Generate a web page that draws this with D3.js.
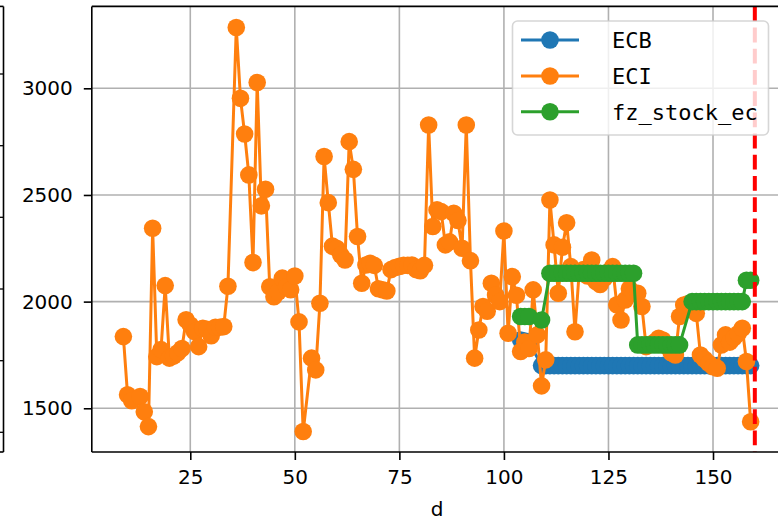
<!DOCTYPE html>
<html><head><meta charset="utf-8">
<script src="https://cdn.jsdelivr.net/npm/d3@7"></script>
<style>body{margin:0;background:#fff}svg{display:block}</style>
</head><body>
<script>
// ---- data ----
const dECI = [9,10,11,13,14,15,16,17,18,19,20,21,22,23,24,25,26,27,28,29,30,31,32,33,34,36,37,38,39,40,41,42,43,44,45,46,47,48,49,50,51,52,54,55,56,57,58,59,60,61,62,63,64,65,66,67,68,69,70,71,72,73,74,75,76,77,78,79,80,81,82,83,84,85,86,87,88,89,90,91,92,93,94,95,96,97,98,99,100,101,102,103,104,105,106,107,108,109,110,111,112,113,114,115,116,117,118,119,120,121,122,123,124,125,126,127,128,129,130,131,132,133,134,135,136,137,138,139,140,141,142,143,144,146,147,148,149,150,151,152,153,154,155,156,157,158,159];
const eci = [1836,1563,1535,1555,1484,1414,2344,1742,1775,2075,1735,1745,1760,1780,1915,1890,1860,1789,1875,1870,1840,1880,1880,1883,2072,3285,2953,2786,2594,2183,3027,2449,2527,2070,2023,2045,2110,2070,2056,2120,1905,1391,1735,1680,1992,2680,2464,2260,2250,2219,2195,2750,2620,2305,2086,2172,2180,2170,2060,2055,2050,2150,2160,2165,2170,2170,2172,2150,2145,2170,2828,2352,2430,2422,2266,2280,2414,2380,2250,2828,2192,1735,1867,1977,1955,2086,2031,2000,2331,1852,2117,2030,1766,1810,1780,2055,1844,1605,1727,2476,2266,2039,2255,2370,2164,1859,2140,2150,2120,2195,2094,2080,2110,2140,2164,1985,1914,2008,2060,2039,2039,1977,1789,1800,1810,1828,1820,1790,1760,1750,1930,1984,1990,1945,1750,1730,1711,1695,1688,1797,1844,1810,1830,1850,1875,1719,1437];
const dECB = [104,105,106,109,110,111,112,113,114,115,116,117,118,119,120,121,122,123,124,125,126,127,128,129,130,131,132,133,134,135,136,137,138,139,140,141,142,143,144,145,146,147,148,149,150,151,152,153,154,155,156,157,158,159];
const ecb = [1820,1815,1810,1700,1700,1700,1700,1700,1700,1700,1700,1700,1700,1700,1700,1700,1700,1700,1700,1700,1700,1700,1700,1700,1700,1700,1700,1700,1700,1700,1700,1700,1700,1700,1700,1700,1700,1700,1700,1700,1700,1700,1700,1700,1700,1700,1700,1700,1700,1700,1700,1700,1700,1700];
const dStock = [104,105,106,109,111,112,113,114,115,116,117,118,119,120,121,122,123,124,125,126,127,128,129,130,131,132,133,134,135,136,137,138,139,140,141,142,145,146,147,148,149,150,151,152,153,154,155,156,157,158,159];
const stock = [1930,1930,1930,1914,2133,2133,2133,2133,2133,2133,2133,2133,2133,2133,2133,2133,2133,2133,2133,2133,2133,2133,2133,2133,2133,1797,1797,1797,1797,1797,1797,1797,1797,1797,1797,1797,2000,2000,2000,2000,2000,2000,2000,2000,2000,2000,2000,2000,2000,2100,2100];
const cutoff = 160;
const xTicks = [25,50,75,100,125,150];
const yTicks = [1500,2000,2500,3000];
const seriesNames = ["ECB","ECI","fz_stock_ec"];
const colors = ["#1f77b4","#ff7f0e","#2ca02c"];

// ---- layout ----
const W = 778, H = 522;
const L = 91.8, R = 786.4, T = 6.4, B = 452;
const svg = d3.select("body").append("svg").attr("width", W).attr("height", H);

const x = d3.scaleLinear().domain([1.45, 167.55]).range([L, R]);
const y = d3.scaleLinear().domain([1295, 3384]).range([B, T]);

svg.append("defs").append("clipPath").attr("id","clip")
  .append("rect").attr("x",L).attr("y",T).attr("width",R-L).attr("height",B-T);

// stray spine of neighbouring subplot at far left
const stray = svg.append("g").attr("stroke","#000").attr("stroke-width",1.6);
stray.append("line").attr("x1",3.5).attr("x2",3.5).attr("y1",T).attr("y2",B);
stray.append("line").attr("x1",0).attr("x2",3.5).attr("y1",T).attr("y2",T);
stray.append("line").attr("x1",0).attr("x2",3.5).attr("y1",B).attr("y2",B);
[74,145.7,217.3,289,360.7,432.3].forEach(v=>{
  stray.append("line").attr("x1",0).attr("x2",3.5).attr("y1",v).attr("y2",v).attr("stroke-width",1.3);
});

// grid
const grid = svg.append("g").attr("stroke","#b0b0b0").attr("stroke-width",1.6);
xTicks.forEach(t=>grid.append("line").attr("x1",x(t)).attr("x2",x(t)).attr("y1",T).attr("y2",B));
yTicks.forEach(t=>grid.append("line").attr("x1",L).attr("x2",R).attr("y1",y(t)).attr("y2",y(t)));

// series
const plot = svg.append("g").attr("clip-path","url(#clip)");
function drawSeries(ds, vs, color){
  const pts = ds.map((d,i)=>[d, vs[i]]);
  const line = d3.line().x(p=>x(p[0])).y(p=>y(p[1]));
  plot.append("path").datum(pts).attr("d", line).attr("fill","none")
    .attr("stroke", color).attr("stroke-width",3).attr("stroke-linejoin","round");
  plot.append("g").selectAll("circle").data(pts).join("circle")
    .attr("cx",p=>x(p[0])).attr("cy",p=>y(p[1])).attr("r",8.8).attr("fill",color);
}
drawSeries(dECB, ecb, colors[0]);
drawSeries(dECI, eci, colors[1]);
drawSeries(dStock, stock, colors[2]);

// red cutoff line
svg.append("line").attr("x1",x(cutoff)).attr("x2",x(cutoff)).attr("y1",T).attr("y2",B)
  .attr("stroke","#ff0000").attr("stroke-width",4).attr("stroke-dasharray","14.8,6.4");

// axes
const font = "DejaVu Sans, sans-serif";
const xAxis = svg.append("g").attr("transform",`translate(0,${B})`)
  .call(d3.axisBottom(x).tickValues(xTicks).tickFormat(d3.format("d")).tickSize(8).tickPadding(10).tickSizeOuter(0));
const yAxis = svg.append("g").attr("transform",`translate(${L},0)`)
  .call(d3.axisLeft(y).tickValues(yTicks).tickFormat(d3.format("d")).tickSize(8).tickPadding(11).tickSizeOuter(0));
[xAxis,yAxis].forEach(a=>{
  a.select(".domain").remove();
  a.selectAll(".tick line").attr("stroke","#000").attr("stroke-width",1.6);
  a.selectAll(".tick text").attr("fill","#000").style("font-family",font).style("font-size","20px");
});

// spines
const sp = svg.append("g").attr("stroke","#000").attr("stroke-width",1.6).attr("fill","none");
sp.append("line").attr("x1",L).attr("x2",R).attr("y1",B).attr("y2",B);
sp.append("line").attr("x1",L).attr("x2",L).attr("y1",T).attr("y2",B);
sp.append("line").attr("x1",L).attr("x2",R).attr("y1",T).attr("y2",T);
sp.append("line").attr("x1",R).attr("x2",R).attr("y1",T).attr("y2",B);

// x label
svg.append("text").attr("x",(L+R)/2 - 2).attr("y",516).attr("text-anchor","middle")
  .style("font-family",font).style("font-size","20px").text("d");

// legend
const lg = svg.append("g");
lg.append("rect").attr("x",512.5).attr("y",21).attr("width",256).attr("height",114).attr("rx",5)
  .attr("fill","rgba(255,255,255,0.8)").attr("stroke","rgba(204,204,204,0.8)").attr("stroke-width",1.6);
const rowsY = [40,76,111.7];
seriesNames.forEach((n,i)=>{
  lg.append("line").attr("x1",521).attr("x2",579).attr("y1",rowsY[i]).attr("y2",rowsY[i])
    .attr("stroke",colors[i]).attr("stroke-width",3);
  lg.append("circle").attr("cx",550).attr("cy",rowsY[i]).attr("r",8.8).attr("fill",colors[i]);
  lg.append("text").attr("x",612).attr("y",rowsY[i]+8).style("font-family","DejaVu Sans Mono, monospace")
    .style("font-size","22px").attr("fill","#000").text(n);
});
</script>
</body></html>
